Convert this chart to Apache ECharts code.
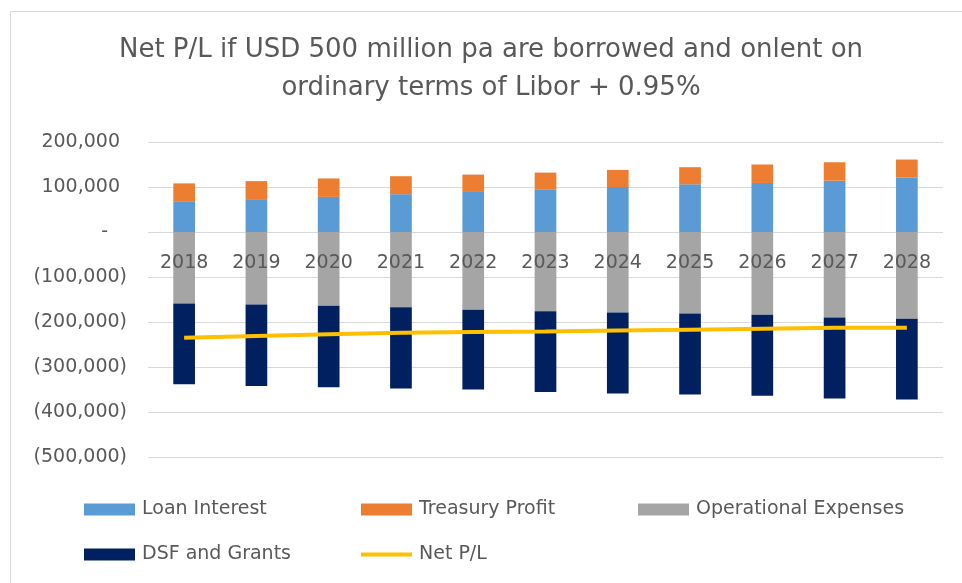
<!DOCTYPE html>
<html>
<head>
<meta charset="utf-8">
<script src="https://cdn.jsdelivr.net/npm/echarts@6/dist/echarts.min.js"></script>
<style>
  html, body { margin: 0; padding: 0; background: #ffffff; }
  #chart { width: 962px; height: 583px; }
</style>
</head>
<body>
<div id="chart"></div>
<script>
const categories = ['2018','2019','2020','2021','2022','2023','2024','2025','2026','2027','2028'];
const loanInterest = [67000, 73000, 78000, 84000, 89000, 95000, 100000, 106000, 109000, 114000, 121000];
const treasuryProfit = [41000, 40000, 41000, 40000, 38500, 37000, 38000, 38000, 41000, 41000, 40000];
const operationalExpenses = [-159000, -161000, -164000, -167000, -173000, -176000, -179000, -181000, -184000, -190000, -193000];
const dsfAndGrants = [-179500, -181000, -181000, -181000, -177000, -179500, -180000, -180000, -180000, -180000, -179000];
const netPL = [-235000, -231000, -227000, -224000, -222000, -221000, -219000, -217000, -215000, -213000, -213000];
const titleLines = ['Net P/L if USD 500 million pa are borrowed and onlent on', 'ordinary terms of Libor + 0.95%'];

const FONT = 'DejaVu Sans';
const TXT = '#595959';

function fmt(v) {
  if (v === 0) return '{z|-}';
  const s = Math.abs(v).toLocaleString('en-US');
  return v < 0 ? '{n|(' + s + ')}' : '{p|' + s + '}';
}

const legendBase = {
  itemWidth: 51, itemHeight: 12, icon: 'rect',
  textStyle: { fontFamily: FONT, fontSize: 19, color: TXT, padding: [0,0,0,2] },
  selectedMode: false
};

const chart = echarts.init(document.getElementById('chart'));
chart.setOption({
  animation: false,
  backgroundColor: '#ffffff',
  title: {
    text: titleLines.join('\n'),
    left: 486, top: 26, textAlign: 'center',
    textStyle: { fontFamily: FONT, fontSize: 26, fontWeight: 'normal', color: TXT, lineHeight: 38 }
  },
  graphic: [{
    type: 'rect', shape: { x: 10.5, y: 11.5, width: 970, height: 600 },
    style: { fill: 'none', stroke: '#D9D9D9', lineWidth: 1 }, silent: true, z: -1
  }],
  grid: { left: 148, right: 19, top: 142, bottom: 126 },
  xAxis: {
    type: 'category', data: categories, z: 10,
    offset: -225,
    axisLine: { show: false, onZero: false },
    axisTick: { show: false },
    axisLabel: { fontFamily: FONT, fontSize: 19, color: TXT, margin: 22 }
  },
  yAxis: {
    type: 'value', min: -500000, max: 200000, interval: 100000,
    axisLine: { show: false }, axisTick: { show: false },
    splitLine: { lineStyle: { color: '#D9D9D9', width: 1 } },
    axisLabel: {
      margin: 21, formatter: fmt,
      rich: {
        p: { fontFamily: FONT, fontSize: 19, color: TXT, padding: [0, 7, 0, 0] },
        n: { fontFamily: FONT, fontSize: 19, color: TXT },
        z: { fontFamily: FONT, fontSize: 19, color: TXT, padding: [0, 19, 0, 0] }
      }
    }
  },
  legend: [
    Object.assign({}, legendBase, { left: 79, top: 495, data: ['Loan Interest'] }),
    Object.assign({}, legendBase, { left: 356, top: 495, data: ['Treasury Profit'] }),
    Object.assign({}, legendBase, { left: 633, top: 495, data: ['Operational Expenses'] }),
    Object.assign({}, legendBase, { left: 79, top: 540, data: ['DSF and Grants'] }),
    Object.assign({}, legendBase, { left: 356, top: 540, itemHeight: 4, data: ['Net P/L'] })
  ],
  series: [
    { name: 'Loan Interest', type: 'bar', stack: 'total', barWidth: '30%', data: loanInterest, itemStyle: { color: '#5B9BD5' } },
    { name: 'Treasury Profit', type: 'bar', stack: 'total', data: treasuryProfit, itemStyle: { color: '#ED7D31' } },
    { name: 'Operational Expenses', type: 'bar', stack: 'total', data: operationalExpenses, itemStyle: { color: '#A5A5A5' } },
    { name: 'DSF and Grants', type: 'bar', stack: 'total', data: dsfAndGrants, itemStyle: { color: '#002060' } },
    { name: 'Net P/L', type: 'line', data: netPL, symbol: 'none', z: 5,
      lineStyle: { color: '#FFC000', width: 4 }, itemStyle: { color: '#FFC000' } }
  ]
});
</script>
</body>
</html>
